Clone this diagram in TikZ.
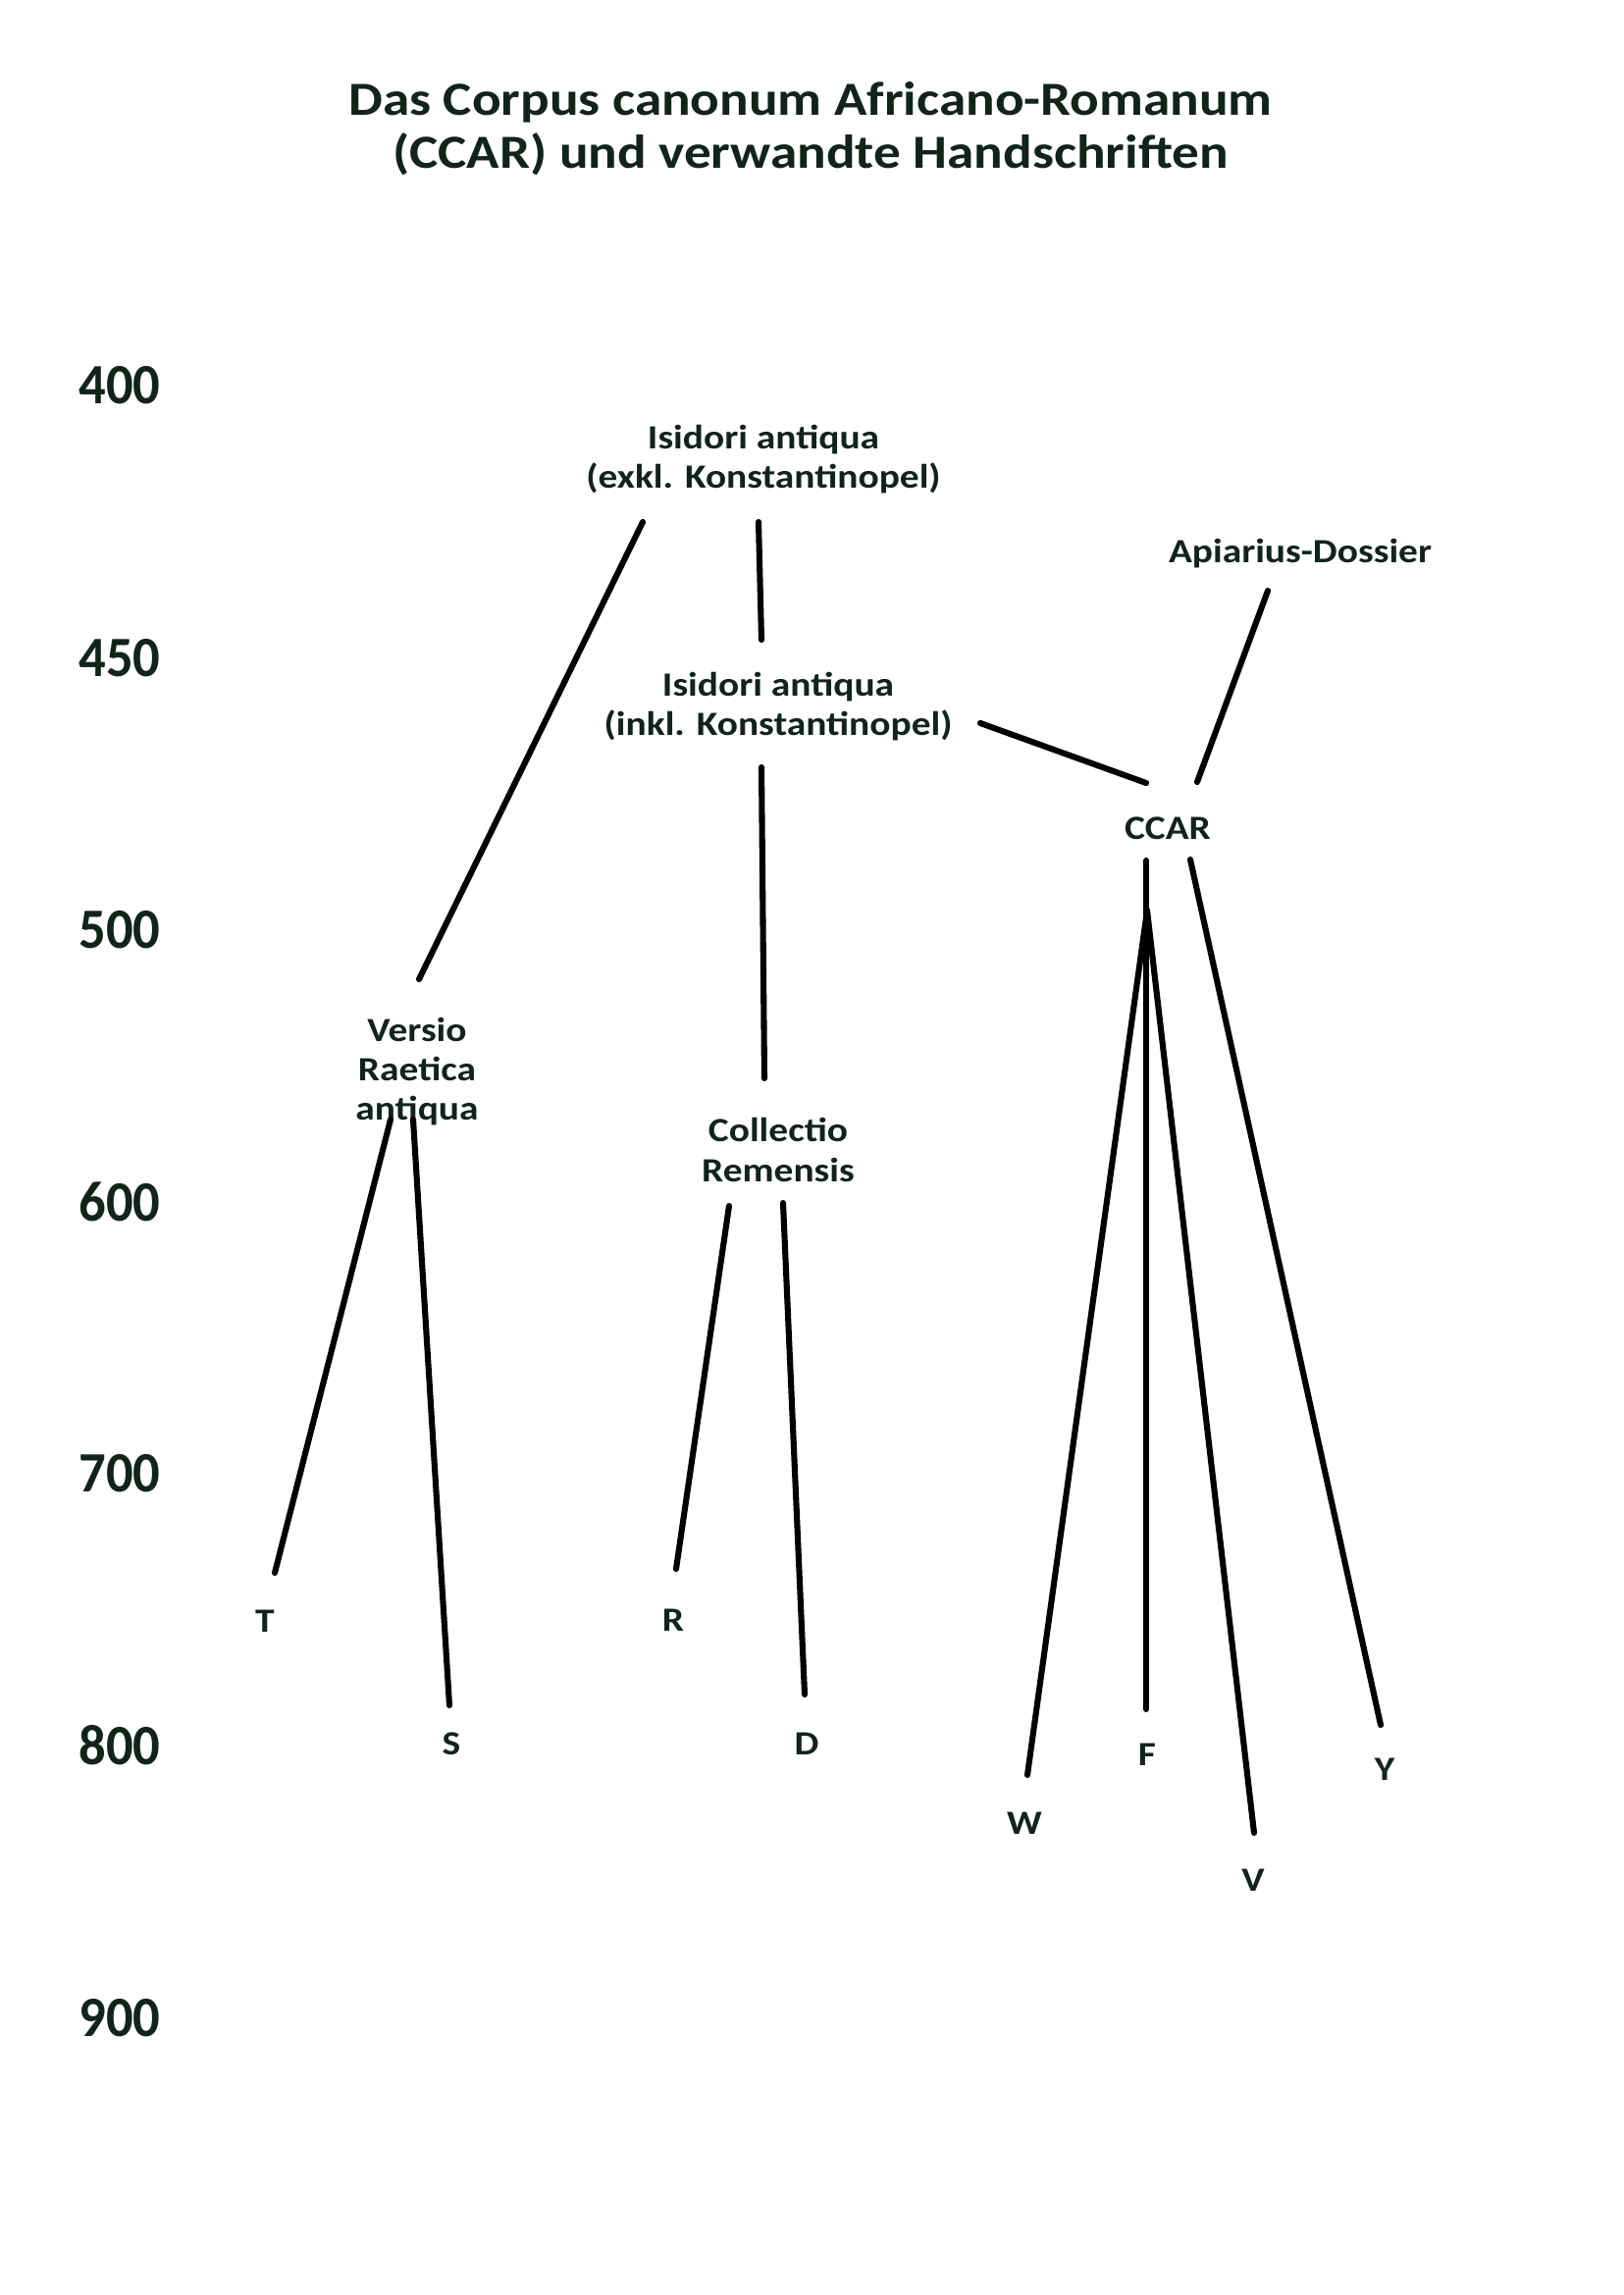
\documentclass[tikz,border=0pt]{standalone}
\usepackage{fontspec}
\setmainfont{Carlito}[FakeStretch=1.14]
\newfontfamily\yearfont{Carlito}[FakeStretch=0.94]
\usepackage{xcolor}
\definecolor{inkgreen}{RGB}{16,36,26}
\tikzset{
  every picture/.style = {
    x=0.127mm,
    y=-0.127mm
  },
  titlebox/.style={
    text=inkgreen,
    align=center,
    inner sep=0pt,
    font=\fontsize{17.5}{19.6}\selectfont\bfseries
  },
  yearbox/.style={
    text=inkgreen,
    anchor=west,
    inner sep=0pt,
    font=\yearfont\fontsize{21}{24}\selectfont\bfseries
  },
  textbox/.style={
    text=inkgreen,
    align=center,
    inner sep=0pt,
    font=\fontsize{12.5}{14.6}\selectfont\bfseries
  },
  branch/.style={
    line width=2.2pt,
    line cap=round
  }
}

\begin{document}
\begin{tikzpicture}
    \useasboundingbox[fill=white] (0,0) rectangle (1654,2339);
    % title
    \node[titlebox] (title) at (826,131) {Das Corpus canonum Africano-Romanum\\(CCAR) und verwandte Handschriften};
    % time axis
    \node[yearbox] (y400) at (80,393) {400};
    \node[yearbox] (y450) at (80,671) {450};
    \node[yearbox] (y500) at (80,948) {500};
    \node[yearbox] (y600) at (80,1225) {600};
    \node[yearbox] (y700) at (80,1502) {700};
    \node[yearbox] (y800) at (80,1779) {800};
    \node[yearbox] (y900) at (80,2057) {900};
    % collections
    \node[textbox] (exkl) at (778,468) {Isidori antiqua\\(exkl. Konstantinopel)};
    \node[textbox] (inkl) at (793,720) {Isidori antiqua\\(inkl. Konstantinopel)};
    \node[textbox] (apiar) at (1325,564) {Apiarius-Dossier};
    \node[textbox] (ccar) at (1190,844) {CCAR};
    \node[textbox] (versio) at (425,1092) {Versio\\Raetica\\antiqua};
    \node[textbox] (remens) at (793,1172) {Collectio\\Remensis};
    % manuscripts
    \node[textbox] (msT) at (270,1652) {T};
    \node[textbox] (msS) at (460,1777) {S};
    \node[textbox] (msR) at (686,1651) {R};
    \node[textbox] (msD) at (822,1777) {D};
    \node[textbox] (msW) at (1044,1858) {W};
    \node[textbox] (msF) at (1169,1788) {F};
    \node[textbox] (msV) at (1277,1916) {V};
    \node[textbox] (msY) at (1411,1803) {Y};
    % line ends
    \coordinate (exkl-l) at (655,532);
    \coordinate (exkl-m) at (773,532);
    \coordinate (inkl-t) at (776,652);
    \coordinate (inkl-b) at (776,782);
    \coordinate (inkl-r) at (999,737);
    \coordinate (apiar-b) at (1292,602);
    \coordinate (ccar-l) at (1168,798);
    \coordinate (ccar-r) at (1220,797);
    \coordinate (ccar-bl) at (1168,877);
    \coordinate (ccar-br) at (1213,876);
    \coordinate (ccar-fork) at (1169,928);
    \coordinate (versio-t) at (427,998);
    \coordinate (versio-bl) at (398,1141);
    \coordinate (versio-br) at (421,1141);
    \coordinate (remens-t) at (779,1099);
    \coordinate (remens-bl) at (743,1229);
    \coordinate (remens-br) at (798,1226);
    \coordinate (msT-t) at (280,1603);
    \coordinate (msS-t) at (458,1738);
    \coordinate (msR-t) at (689,1599);
    \coordinate (msD-t) at (820,1727);
    \coordinate (msW-t) at (1047,1809);
    \coordinate (msF-t) at (1168,1742);
    \coordinate (msV-t) at (1278,1868);
    \coordinate (msY-t) at (1407,1758);
    % branches
    \draw[branch] (exkl-l) -- (versio-t);
    \draw[branch] (exkl-m) -- (inkl-t);
    \draw[branch] (inkl-b) -- (remens-t);
    \draw[branch] (inkl-r) -- (ccar-l);
    \draw[branch] (apiar-b) -- (ccar-r);
    \draw[branch] (versio-bl) -- (msT-t);
    \draw[branch] (versio-br) -- (msS-t);
    \draw[branch] (remens-bl) -- (msR-t);
    \draw[branch] (remens-br) -- (msD-t);
    \draw[branch] (ccar-bl) -- (msF-t);
    \draw[branch] (ccar-fork) -- (msW-t);
    \draw[branch] (ccar-fork) -- (msV-t);
    \draw[branch] (ccar-br) -- (msY-t);
\end{tikzpicture}
\end{document}
